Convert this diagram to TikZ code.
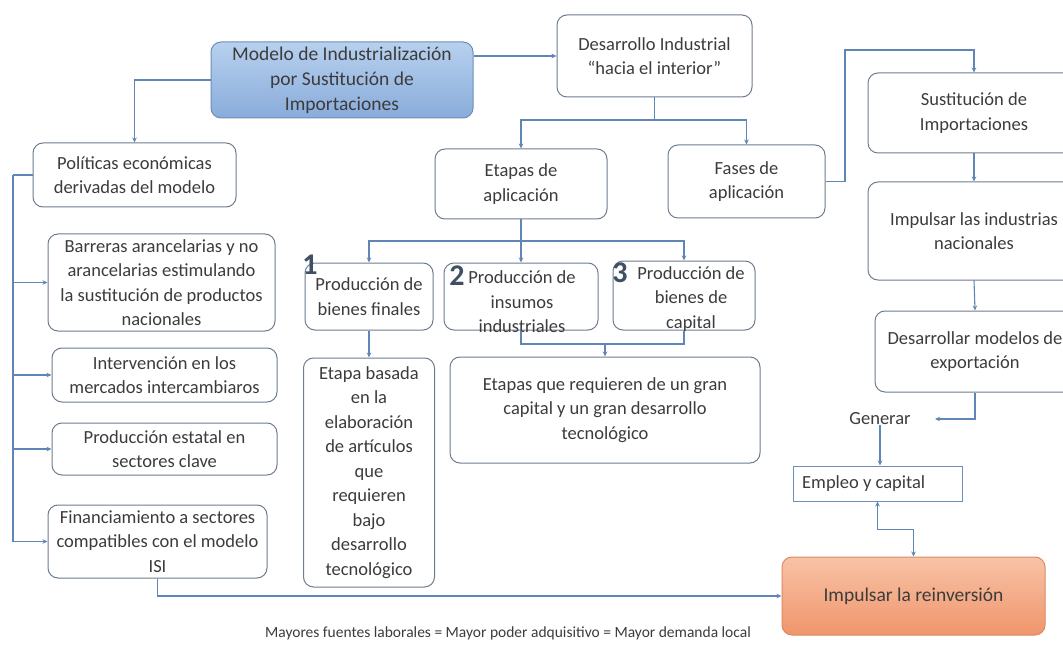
\documentclass[tikz,border=0pt]{standalone}
\usepackage{fontspec}
\setmainfont{Carlito}
\usetikzlibrary{arrows.meta,calc}
\definecolor{txt}{HTML}{3C3C3C}
\definecolor{bord}{HTML}{6E7D90}
\definecolor{conncol}{HTML}{5F86B6}
\definecolor{mainT}{HTML}{B7D0EE}
\definecolor{mainB}{HTML}{89ACDB}
\definecolor{mainD}{HTML}{6C8EBD}
\definecolor{orT}{HTML}{F8C3A7}
\definecolor{orB}{HTML}{F0956B}
\definecolor{orD}{HTML}{DC8A62}
\definecolor{numcol}{HTML}{3F5064}
\tikzset{
  box/.style={draw=bord, line width=1pt, rounded corners=10pt, fill=white, inner sep=0pt,
    align=center, text=txt, font=\fontsize{18.5}{24.5}\selectfont},
  txtnode/.style={inner sep=0pt, align=center, text=txt, font=\fontsize{18.5}{24.5}\selectfont},
  conn/.style={draw=conncol, line width=1.1pt},
  arr/.style={conn, -{Stealth[length=5pt,width=4.5pt]}},
  arrboth/.style={conn, {Stealth[length=5pt,width=4.5pt]}-{Stealth[length=5pt,width=4.5pt]}},
  num/.style={inner sep=0pt, text=numcol, font=\fontsize{30}{30}\selectfont\bfseries}
}
\begin{document}
\begin{tikzpicture}[x=1pt,y=-1pt]
\useasboundingbox (0,0) rectangle (1063,647);
\fill[white] (0,0) rectangle (1063,647);

% top level
\node[box, draw=mainD, top color=mainT, bottom color=mainB, minimum width=262pt, minimum height=76pt,
  font=\fontsize{19.5}{25}\selectfont] (main) at (342,80)
  {Modelo de Industrialización\\por Sustitución de\\Importaciones};
\node[box, minimum width=195pt, minimum height=82pt] (desa) at (654.5,56)
  {Desarrollo Industrial\\“hacia el interior”};
\node[box, minimum width=203pt, minimum height=64pt] (poli) at (134.5,175)
  {Políticas económicas\\derivadas del modelo};
\node[box, minimum width=172pt, minimum height=70pt] (etapas) at (521,184)
  {Etapas de\\aplicación};
\node[box, minimum width=157pt, minimum height=73pt] (fases) at (746.5,181.5)
  {Fases de\\aplicación};

% right column
\node[box, minimum width=212pt, minimum height=80pt] (sust) at (974,113)
  {Sustitución de\\Importaciones};
\node[box, minimum width=212pt, minimum height=98pt] (impind) at (974,231)
  {Impulsar las industrias\\nacionales};
\node[box, minimum width=200pt, minimum height=81pt] (desexp) at (975,351.5)
  {Desarrollar modelos de\\exportación};
\node[txtnode] (gen) at (880,419) {Generar};
\coordinate (genin) at (935,419);
\node[draw=mainD, line width=1pt, fill=white, minimum width=169pt, minimum height=35pt] (empleo) at (877.5,483.5) {};
\node[txtnode, anchor=west] (empleot) at (802,484) {Empleo y capital};
\node[box, draw=orD, top color=orT, bottom color=orB, minimum width=263pt, minimum height=78pt,
  font=\fontsize{19.5}{25}\selectfont] (reinv) at (913.5,596)
  {Impulsar la reinversión};

% left column
\node[box, minimum width=227pt, minimum height=97pt] (barr) at (161.5,282.5)
  {Barreras arancelarias y no\\arancelarias estimulando\\la sustitución de productos\\nacionales};
\node[box, minimum width=225pt, minimum height=54pt] (interv) at (164.5,375)
  {Intervención en los\\mercados intercambiaros};
\node[box, minimum width=225pt, minimum height=52pt] (estatal) at (164.5,449)
  {Producción estatal en\\sectores clave};
\node[box, minimum width=219pt, minimum height=73pt] (finan) at (157.5,541.5)
  {Financiamiento a sectores\\compatibles con el modelo\\ISI};

% stages
\node[box, minimum width=128pt, minimum height=67pt] (b1) at (369,296.5)
  {Producción de\\bienes finales};
\node[box, minimum width=154pt, minimum height=67pt] (b2) at (521,296.5) {};
\node[txtnode] (b2t) at (522,302) {Producción de\\insumos\\industriales};
\node[box, minimum width=142pt, minimum height=69pt] (b3) at (684,295.5) {};
\node[txtnode] (b3t) at (691,299) {Producción de\\bienes de\\capital};
\node[num] (n1) at (310,265) {1};
\node[num] (n2) at (457,276) {2};
\node[num] (n3) at (620,273) {3};
\node[box, minimum width=131pt, minimum height=229pt] (ebas) at (369,472.5)
  {Etapa basada\\en la\\elaboración\\de artículos\\que\\requieren\\bajo\\desarrollo\\tecnológico};
\node[box, minimum width=310pt, minimum height=106pt] (eque) at (605,410)
  {Etapas que requieren de un gran\\capital y un gran desarrollo\\tecnológico};

% footer
\node[inner sep=0pt, text=txt, font=\fontsize{15.5}{17}\selectfont] (foot) at (508,633)
  {Mayores fuentes laborales = Mayor poder adquisitivo = Mayor demanda local};

% connectors
\draw[arr] (main.west) -| (poli.north);
\draw[arr] (main.east |- desa.west) -- (desa.west);
\coordinate (f1) at (654.5,120);
\draw[conn] (desa.south) -- (f1);
\draw[arr] (f1) -| (etapas.north);
\draw[arr] (f1) -| (fases.north);
\coordinate (c1) at (845,50);
\draw[arr] (fases.east) -| (c1) -| (sust.north);
\draw[arr] (sust.south) -- (impind.north);
\draw[arr] (impind.south) -- (desexp.north);
\draw[arr] (desexp.south) |- (genin);
\draw[arr] (gen.south) -- (gen.south |- empleo.north);
\draw[arrboth] (empleo.south) -- ++(0,28) -| (reinv.north);
\draw[arr] (finan.south) |- (reinv.west);

\coordinate (t0) at (13,175);
\draw[conn] (poli.west) -- (t0);
\draw[arr] (t0) |- (barr.west);
\draw[arr] (t0) |- (interv.west);
\draw[arr] (t0) |- (estatal.west);
\draw[arr] (t0) |- (finan.west);

\coordinate (f2) at (521,241);
\draw[conn] (etapas.south) -- (f2);
\draw[arr] (f2) -| (b1.north);
\draw[arr] (f2) -- (b2.north);
\draw[arr] (f2) -| (b3.north);
\draw[arr] (b1.south) -- (ebas.north);
\coordinate (m) at (605,344);
\draw[conn] (b2.south) |- (m) -| (b3.south);
\draw[arr] (m) -- (eque.north);
\end{tikzpicture}
\end{document}
